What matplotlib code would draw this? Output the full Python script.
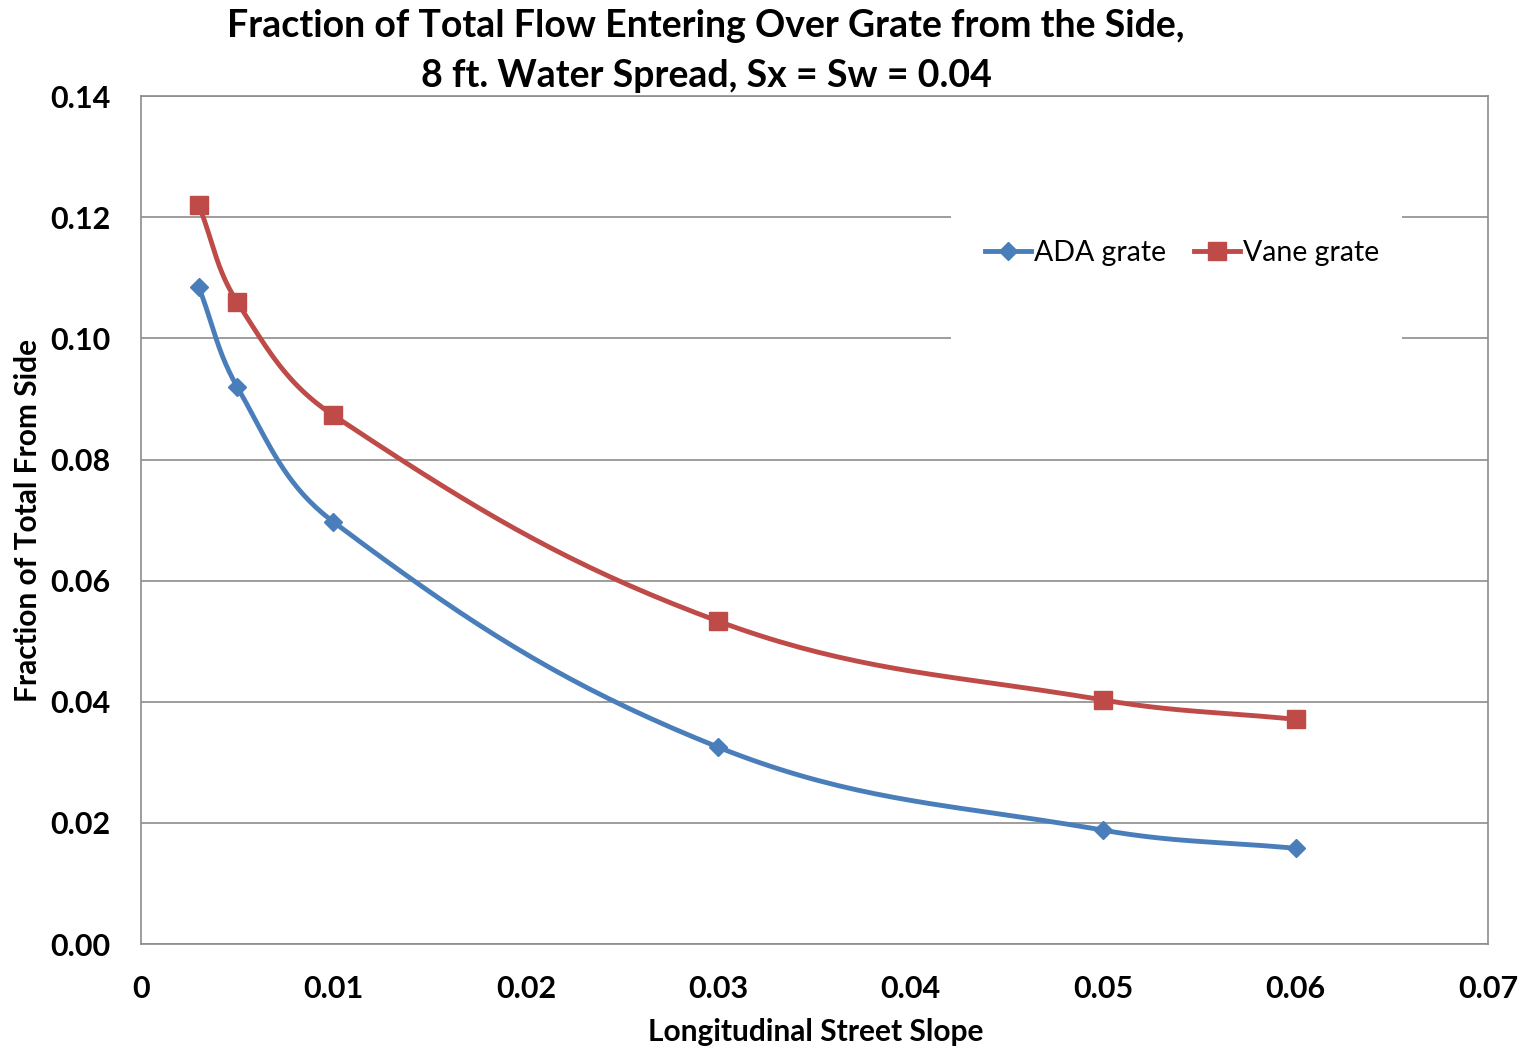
"""Fraction of total flow entering over grate from the side (Excel-style smoothed lines)."""

import numpy as np
import matplotlib
matplotlib.use("Agg")
import matplotlib.pyplot as plt
from matplotlib.patches import Rectangle

# data
slope = [0.003, 0.005, 0.01, 0.03, 0.05, 0.06]
ada_grate = [0.1085, 0.0920, 0.0697, 0.0325, 0.0188, 0.0158]
vane_grate = [0.1220, 0.1060, 0.0873, 0.0533, 0.0403, 0.0371]

x_ticks = [0, 0.01, 0.02, 0.03, 0.04, 0.05, 0.06, 0.07]
x_tick_labels = ["0", "0.01", "0.02", "0.03", "0.04", "0.05", "0.06", "0.07"]
y_ticks = [0.00, 0.02, 0.04, 0.06, 0.08, 0.10, 0.12, 0.14]

BLUE = "#4a7ebb"
RED = "#be4b48"
XMAX, YMAX = 0.07, 0.14


def smooth(xs, ys, n=40, k=0.38):
    """Smoothed line through the points: cubic Bezier segments whose handles
    follow the neighbour direction and scale with segment length (in screen-like units)."""
    # work in roughly pixel-proportional units so the curve shape is not distorted
    sx, sy = 1347.0 / XMAX, 848.0 / YMAX
    p = np.column_stack([np.asarray(xs) * sx, np.asarray(ys) * sy])
    m = len(p)
    dirs = []
    for i in range(m):
        a = p[max(i - 1, 0)]
        b = p[min(i + 1, m - 1)]
        d = b - a
        dirs.append(d / np.linalg.norm(d))
    out = []
    for i in range(m - 1):
        p1, p2 = p[i], p[i + 1]
        L = np.linalg.norm(p2 - p1)
        c1 = p1 + dirs[i] * L * k
        c2 = p2 - dirs[i + 1] * L * k
        t = np.linspace(0, 1, n)[:, None]
        seg = ((1 - t) ** 3) * p1 + 3 * ((1 - t) ** 2) * t * c1 + 3 * (1 - t) * t ** 2 * c2 + t ** 3 * p2
        out.append(seg if i == 0 else seg[1:])
    out = np.vstack(out)
    return out[:, 0] / sx, out[:, 1] / sy


plt.rcParams["font.family"] = ["Lato", "DejaVu Sans"]

fig = plt.figure(figsize=(15.23, 10.46), dpi=100)
ax = fig.add_axes([0.0926, 0.0975, 0.8844, 0.8105])

for ys, color, marker, ms, label in [
    (ada_grate, BLUE, "D", 9.5, "ADA grate"),
    (vane_grate, RED, "s", 12.5, "Vane grate"),
]:
    cx, cy = smooth(slope, ys)
    ax.plot(cx, cy, color=color, lw=3.5, solid_capstyle="round", zorder=3)
    ax.plot(slope, ys, linestyle="none", marker=marker, markersize=ms,
            color=color, zorder=4)
    # proxy for legend
    ax.plot([], [], color=color, lw=3.5, marker=marker, markersize=ms, label=label)

ax.set_xlim(0, XMAX)
ax.set_ylim(0, YMAX)
ax.set_xticks(x_ticks)
ax.set_xticklabels(x_tick_labels)
ax.set_yticks(y_ticks)
ax.set_yticklabels([f"{v:.2f}" for v in y_ticks])
ax.tick_params(length=0, labelsize=22)
for lbl in ax.get_xticklabels() + ax.get_yticklabels():
    lbl.set_fontweight("bold")
ax.tick_params(axis="x", pad=22)
ax.tick_params(axis="y", pad=22)

ax.grid(axis="y", color="#8c8c8c", lw=1.2, zorder=1)
ax.set_axisbelow(True)
for s in ax.spines.values():
    s.set_color("#8c8c8c")
    s.set_linewidth(1.2)

ax.set_xlabel("Longitudinal Street Slope", fontsize=21.5, fontweight="bold", va="center")
ax.xaxis.set_label_coords(0.501, -0.104)
ax.set_ylabel("Fraction of Total From Side", fontsize=21.5, fontweight="bold", va="center")
ax.yaxis.set_label_coords(-0.084, 0.5)

fig.text(0.4636, 1 - 51 / 1046,
         "Fraction of Total Flow Entering Over Grate from the Side,\n8 ft. Water Spread, Sx = Sw = 0.04",
         fontsize=27, fontweight="bold", ha="center", va="center", linespacing=1.55)

# white legend area that hides the grid lines behind it
ax.add_patch(Rectangle((0.601, 0.683), 0.335, 0.212, transform=ax.transAxes,
                       facecolor="white", edgecolor="none", zorder=2))
leg = ax.legend(loc="center", bbox_to_anchor=(0.773, 0.815), ncol=2, frameon=False,
                fontsize=20.5, handlelength=1.6, handletextpad=0.1, columnspacing=1.0)

fig.savefig("out.png", dpi=100)
